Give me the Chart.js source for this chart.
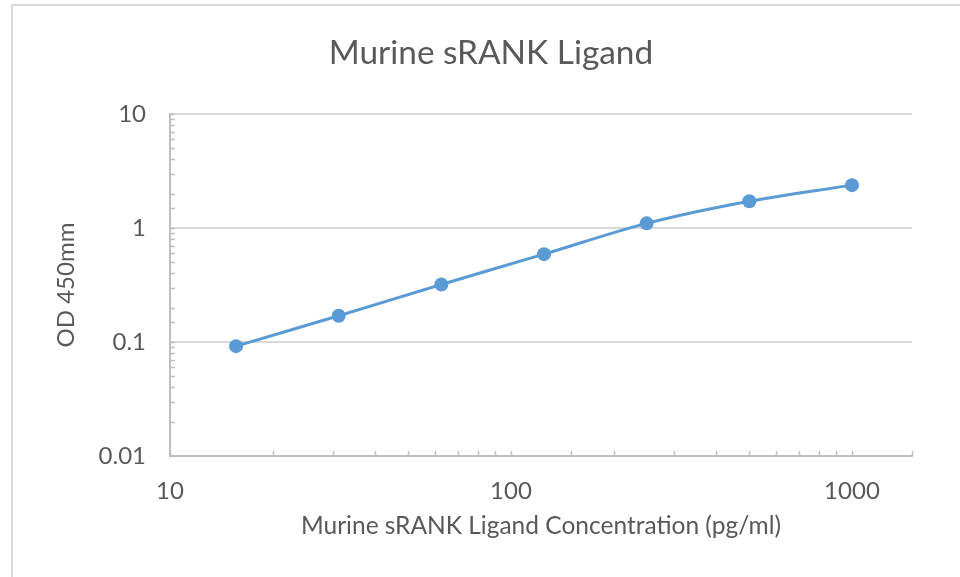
<!DOCTYPE html>
<html>
<head>
<meta charset="utf-8">
<script src="https://cdn.jsdelivr.net/npm/chart.js@4/dist/chart.umd.min.js"></script>
<style>
  html, body { margin: 0; padding: 0; background: #fff; overflow: hidden; }
  #wrap { position: relative; width: 960px; height: 577px; }
  #frame { position: absolute; left: 11px; top: 4px; width: 1000px; height: 1000px; border: 2px solid #d9d9d9; }
  canvas { position: absolute; left: 0; top: 0; }
</style>
</head>
<body>
<div id="wrap">
  <div id="frame"></div>
  <canvas id="curve" width="960" height="577"></canvas>
</div>
<script>
// standard curve values
var concentrations = [15.625, 31.25, 62.5, 125, 250, 500, 1000]
var odValues = [0.092, 0.17, 0.32, 0.59, 1.1, 1.72, 2.38]

var textColor = "#595959"
var lineColor = "#5b9bd5"
var fontName = "Lato"

function isDecade(v) {
    var l = Math.log10(v)
    return Math.abs(l - Math.round(l)) < 1e-6
}

function decadeLabel(v) {
    return isDecade(v) ? String(Number(v.toPrecision(3))) : ""
}

// small inside tick marks like the spreadsheet axes
var minorTicks = {
    id: "minorTicks",
    afterDraw: function (chart) {
        var ctx = chart.ctx
        var area = chart.chartArea
        ctx.save()
        ctx.strokeStyle = "#bfbfbf"
        ctx.lineWidth = 1.5
        chart.scales.x.ticks.forEach(function (t) {
            var px = Math.round(chart.scales.x.getPixelForValue(t.value)) + 0.5
            ctx.beginPath()
            ctx.moveTo(px, area.bottom)
            ctx.lineTo(px, area.bottom - 5)
            ctx.stroke()
        })
        chart.scales.y.ticks.forEach(function (t) {
            var py = Math.round(chart.scales.y.getPixelForValue(t.value)) + 0.5
            ctx.beginPath()
            ctx.moveTo(area.left, py)
            ctx.lineTo(area.left + 5, py)
            ctx.stroke()
        })
        ctx.restore()
    }
}

var ctx = document.getElementById("curve")

var curveChart = new Chart(ctx, {
    type: "line",
    data: {
        datasets: [{
            data: concentrations.map(function (c, i) { return { x: c, y: odValues[i] } }),
            borderColor: lineColor,
            backgroundColor: lineColor,
            borderWidth: 3,
            pointRadius: 7,
            pointHoverRadius: 7,
            pointBorderWidth: 0,
            tension: 0.35,
            fill: false
        }]
    },
    options: {
        responsive: false,
        animation: false,
        layout: { padding: { left: 22, right: 0, top: 0, bottom: 0 } },
        plugins: {
            legend: { display: false },
            tooltip: { enabled: false },
            title: {
                display: true,
                text: "Murine sRANK Ligand",
                color: textColor,
                font: { family: fontName, size: 33.4, weight: "normal" },
                padding: { top: 33, bottom: 41 }
            }
        },
        scales: {
            x: {
                type: "logarithmic",
                min: 10,
                max: 1500,
                afterFit: function (s) { s.height = 121 },
                grid: { color: "rgba(0,0,0,0)", drawTicks: false },
                border: { display: true, color: "#bfbfbf", width: 2 },
                ticks: {
                    autoSkip: false,
                    maxRotation: 0,
                    padding: 20.6,
                    color: textColor,
                    font: { family: fontName, size: 24 },
                    callback: function (v) { return decadeLabel(v) }
                },
                title: {
                    display: true,
                    text: "Murine sRANK Ligand Concentration (pg/ml)",
                    color: textColor,
                    font: { family: fontName, size: 24.5 },
                    padding: { top: 0, bottom: 36.3 }
                }
            },
            y: {
                type: "logarithmic",
                min: 0.01,
                max: 10,
                afterFit: function (s) { s.width = 148 },
                grid: {
                    drawTicks: false,
                    lineWidth: 2,
                    color: function (c) { return c.tick && isDecade(c.tick.value) ? "#d9d9d9" : "rgba(0,0,0,0)" }
                },
                border: { display: true, color: "#bfbfbf", width: 2 },
                ticks: {
                    autoSkip: false,
                    padding: 24,
                    color: textColor,
                    font: { family: fontName, size: 24 },
                    callback: function (v) { return decadeLabel(v) }
                },
                title: {
                    display: true,
                    text: "OD 450mm",
                    color: textColor,
                    font: { family: fontName, size: 24 },
                    padding: { top: 29.6, bottom: 0 }
                }
            },
            // empty right-hand strip so the plot ends where the original does
            spacer: {
                type: "linear",
                position: "right",
                afterFit: function (s) { s.width = 48 },
                grid: { display: false, drawTicks: false },
                border: { display: false },
                ticks: { display: false }
            }
        }
    },
    plugins: [minorTicks]
});
</script>
</body>
</html>
